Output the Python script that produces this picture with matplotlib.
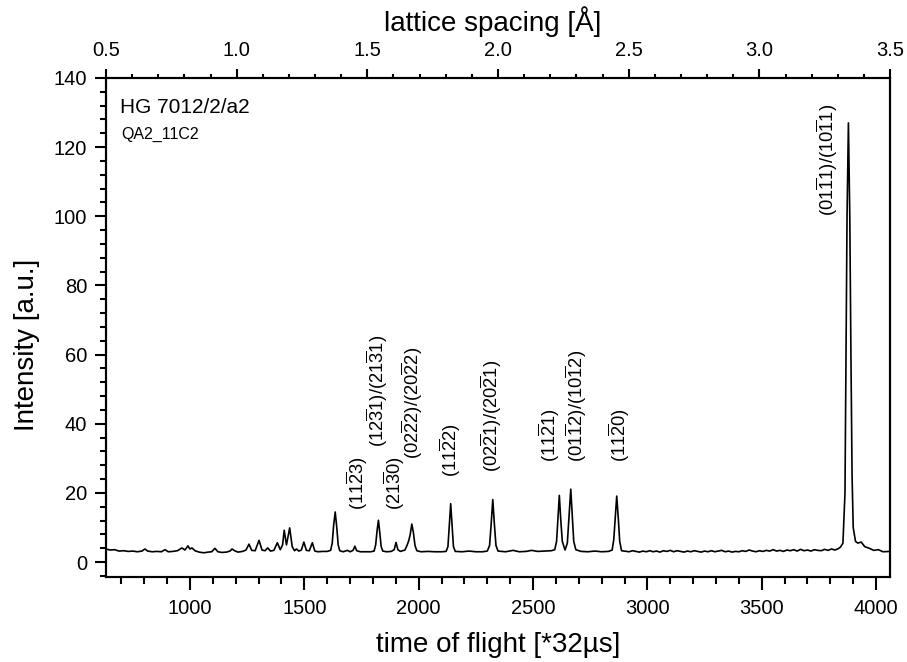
import matplotlib.pyplot as plt
from matplotlib.ticker import MultipleLocator, FormatStrFormatter

# Helvetica-like font, also inside the math text (bars over the Miller indices)
plt.rcParams['font.family'] = ['Liberation Sans', 'DejaVu Sans']
plt.rcParams['mathtext.fontset'] = 'custom'
plt.rcParams['mathtext.rm'] = 'Liberation Sans'
plt.rcParams['mathtext.it'] = 'Liberation Sans:italic'
plt.rcParams['mathtext.bf'] = 'Liberation Sans:bold'

# spectrum: time of flight [*32us] and intensity [a.u.]
tof = [633, 650, 670, 690, 710, 730, 750, 770, 790, 803,
       815, 835, 855, 875, 891, 905, 925, 945, 965, 978,
       991, 1000, 1009, 1022, 1040, 1060, 1080, 1095, 1109, 1122,
       1140, 1160, 1175, 1184, 1195, 1210, 1230, 1245, 1258, 1270,
       1285, 1302, 1315, 1328, 1340, 1352, 1367, 1382, 1395, 1405,
       1412, 1422, 1436, 1447, 1457, 1466, 1476, 1487, 1498, 1509,
       1522, 1535, 1546, 1560, 1580, 1600, 1615, 1622, 1628, 1635,
       1642, 1648, 1655, 1670, 1688, 1700, 1713, 1721, 1729, 1745,
       1765, 1790, 1805, 1812, 1818, 1824, 1830, 1836, 1843, 1860,
       1880, 1893, 1901, 1909, 1920, 1940, 1950, 1957, 1963, 1970,
       1977, 1984, 1992, 2010, 2040, 2070, 2100, 2120, 2128, 2134,
       2140, 2146, 2152, 2160, 2190, 2220, 2250, 2280, 2300, 2310,
       2317, 2324, 2331, 2338, 2347, 2380, 2413, 2440, 2470, 2494,
       2520, 2550, 2580, 2595, 2603, 2609, 2615, 2621, 2628, 2640,
       2650, 2657, 2665, 2672, 2678, 2687, 2710, 2740, 2770, 2800,
       2830, 2846, 2853, 2859, 2866, 2873, 2879, 2887,
       2920, 2935, 2950, 2965, 2980, 2995, 3010, 3025, 3040, 3055,
       3070, 3085, 3100, 3115, 3130, 3145, 3160, 3175, 3190, 3205,
       3220, 3235, 3250, 3265, 3280, 3295, 3310, 3325, 3340, 3355,
       3370, 3385, 3400, 3415, 3430, 3445, 3460, 3475, 3490, 3505,
       3520, 3535, 3550, 3565, 3580, 3595, 3610, 3625, 3640, 3655,
       3670, 3685, 3700, 3715, 3730, 3745, 3760, 3775, 3790, 3805,
       3820, 3835, 3845, 3855, 3864, 3868, 3873, 3879, 3885, 3890,
       3895, 3900, 3910, 3920, 3935, 3950, 3970, 3990, 4010, 4030, 4061]

intensity = [3.8, 3.5, 3.6, 3.2, 3.3, 3.1, 3.2, 3.0, 3.2, 3.8,
             3.2, 3.0, 3.1, 3.0, 3.6, 3.0, 3.1, 3.3, 4.1, 3.5,
             4.7, 3.8, 4.1, 3.3, 2.9, 2.7, 2.9, 3.0, 4.0, 3.0,
             2.8, 2.9, 3.2, 3.8, 3.3, 2.9, 3.1, 3.5, 5.2, 3.4,
             3.3, 6.3, 3.5, 3.3, 4.1, 3.2, 3.4, 5.6, 3.6, 5.0,
             9.2, 5.0, 9.9, 4.5, 3.3, 3.8, 3.2, 3.5, 5.8, 3.4,
             3.3, 5.6, 3.2, 3.0, 3.1, 3.1, 3.4, 5.5, 10.5, 14.5,
             10.0, 5.0, 3.3, 3.0, 3.4, 3.0, 3.4, 4.6, 3.3, 3.0,
             3.0, 3.0, 3.2, 5.0, 9.0, 12.1, 8.5, 4.5, 3.2, 3.0,
             3.1, 3.6, 5.7, 3.6, 3.1, 3.5, 5.0, 6.3, 8.0, 11.0,
             8.5, 4.8, 3.3, 3.0, 3.1, 3.0, 3.0, 3.1, 4.5, 10.5,
             16.9, 10.5, 4.5, 3.1, 3.0, 3.2, 3.0, 3.0, 3.2, 4.8,
             11.0, 18.1, 11.0, 4.8, 3.2, 3.0, 3.4, 3.0, 3.1, 3.4,
             3.1, 3.2, 3.3, 3.6, 6.0, 12.5, 19.3, 12.5, 6.0, 3.5,
             5.5, 13.0, 21.1, 13.0, 6.0, 3.6, 3.1, 3.0, 3.2, 3.0,
             3.1, 3.5, 6.5, 12.5, 19.1, 12.5, 6.0, 3.3,
             3.0, 3.3, 3.1, 2.9, 3.2, 3.0, 3.3, 3.0, 3.2, 2.9,
             3.3, 3.1, 3.4, 3.0, 3.3, 3.1, 2.9, 3.2, 3.0, 3.3,
             3.1, 2.9, 3.2, 3.0, 3.3, 3.0, 3.2, 3.4, 3.0, 3.2,
             2.9, 3.1, 3.0, 3.3, 3.1, 3.5, 3.2, 3.0, 3.3, 3.1,
             3.4, 3.2, 3.6, 3.2, 3.4, 3.1, 3.5, 3.3, 3.6, 3.2,
             3.7, 3.3, 3.5, 3.2, 3.6, 3.4, 3.3, 3.7, 3.4, 3.8,
             3.5, 3.9, 4.4, 5.5, 20, 55, 100, 127, 100, 60,
             25, 10, 6.0, 5.5, 5.8, 4.5, 4.0, 3.4, 3.6, 3.0, 3.1]

# reflection labels (Miller-Bravais indices) and where they stand
peak_labels = [r'$(11\overline{2}3)$',
               r'$(12\overline{3}1)/(21\overline{3}1)$',
               r'$(21\overline{3}0)$',
               r'$(02\overline{2}2)/(20\overline{2}2)$',
               r'$(11\overline{2}2)$',
               r'$(02\overline{2}1)/(20\overline{2}1)$',
               r'$(11\overline{2}1)$',
               r'$(01\overline{1}2)/(10\overline{1}2)$',
               r'$(11\overline{2}0)$',
               r'$(01\overline{1}1)/(10\overline{1}1)$']
label_tof = [1732, 1819, 1892, 1972, 2140, 2319, 2570, 2691, 2876, 3787]
label_y = [15, 33.3, 15, 29.9, 24.6, 26, 28.9, 28.9, 28.9, 100]

fig = plt.figure(figsize=(9.07, 6.62), dpi=100)
ax = fig.add_axes([0.1169, 0.1284, 0.8644, 0.7538])

ax.plot(tof, intensity, color='black', linewidth=1.2)

ax.set_xlim(633, 4061)
ax.set_ylim(-4.3, 140)
ax.xaxis.set_major_locator(MultipleLocator(500))
ax.xaxis.set_minor_locator(MultipleLocator(100))
ax.yaxis.set_major_locator(MultipleLocator(20))
ax.yaxis.set_minor_locator(MultipleLocator(4))

ax.tick_params(which='both', direction='out', width=1.5, top=False, right=False,
               labelsize=14.5, colors='black')
ax.tick_params(axis='x', which='major', length=9, pad=7)
ax.tick_params(axis='x', which='minor', length=4.8)
ax.tick_params(axis='y', which='major', length=8, pad=5.5)
ax.tick_params(axis='y', which='minor', length=4.3)
for s in ax.spines.values():
    s.set_linewidth(1.5)

# upper axis: lattice spacing
ax2 = ax.twiny()
ax2.set_xlim(0.5, 3.5)
ax2.xaxis.set_major_locator(MultipleLocator(0.5))
ax2.xaxis.set_minor_locator(MultipleLocator(0.1))
ax2.xaxis.set_major_formatter(FormatStrFormatter('%.1f'))
ax2.tick_params(axis='x', which='both', direction='out', width=1.5, labelsize=14.5)
ax2.tick_params(axis='x', which='major', length=6.5, pad=6.5)
ax2.tick_params(axis='x', which='minor', length=3)
for s in ax2.spines.values():
    s.set_linewidth(1.5)

ax.set_xlabel('time of flight [*32µs]', fontsize=20)
ax.xaxis.set_label_coords(0.5006, -0.11)
ax.set_ylabel('Intensity [a.u.]', fontsize=20)
ax.yaxis.set_label_coords(-0.084, 0.465)
ax2.set_xlabel('lattice spacing [Å]', fontsize=20)
ax2.xaxis.set_label_coords(0.4936, 1.094)

# sample names
ax.text(0.018, 0.930, 'HG 7012/2/a2', transform=ax.transAxes, fontsize=15,
        va='baseline', ha='left')
ax.text(0.020, 0.878, 'QA2_11C2', transform=ax.transAxes, fontsize=11.5,
        va='baseline', ha='left')

for lab, x, y in zip(peak_labels, label_tof, label_y):
    ax.text(x, y, lab, rotation=90, ha='center', va='bottom', fontsize=13.2)

plt.savefig('out.png', dpi=100)
